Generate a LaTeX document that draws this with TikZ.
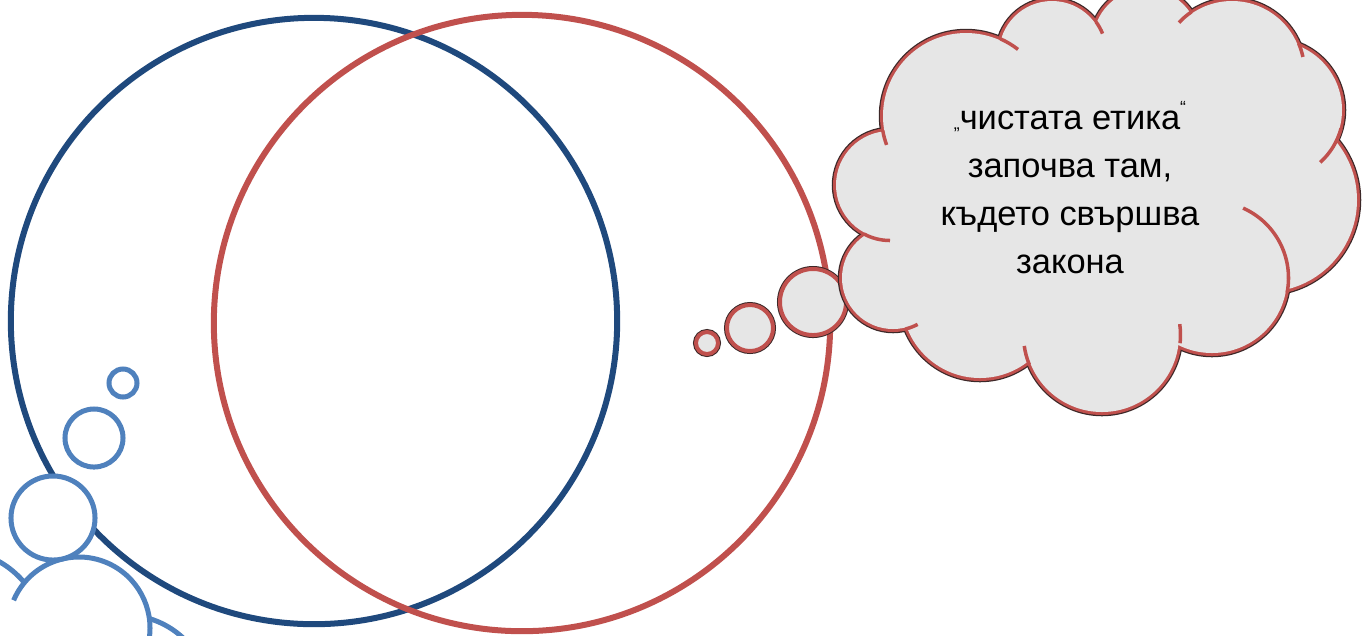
\documentclass[tikz,border=0pt]{standalone}
\usepackage{fontspec}
\newfontfamily\cloudfont{Liberation Sans}
\definecolor{lawblue}{RGB}{31,73,125}
\definecolor{ethicred}{RGB}{192,80,77}
\definecolor{bubbleblue}{RGB}{79,129,189}
\definecolor{cloudgray}{RGB}{230,230,230}
\definecolor{cloudshade}{RGB}{60,40,40}
\def\puffs{966/116/83,1052/54/53,1146/42/53,1232/72/71,1273/110/69,1265/200/92,1212/278/75,1102/335/77,980/300/78,893/278/51,890/185/54}

\begin{document}
\begin{tikzpicture}[x=0.01cm,y=-0.01cm,
  venn/.style={circle,line width=0.06cm,inner sep=0pt},
  blue bubble/.style={circle,draw=bubbleblue,fill=white,line width=0.05cm,inner sep=0pt},
  red bubble/.style={circle,preaction={draw=cloudshade,line width=0.06cm},draw=ethicred,fill=cloudgray,line width=0.04cm,inner sep=0pt},
  puff shade/.style={draw=cloudshade,line width=0.085cm},
  puff line/.style={draw=ethicred,line width=0.06cm},
  puff tick/.style={draw=ethicred,line width=0.035cm},
  cloud text/.style={align=center,font=\cloudfont\fontsize{9.8}{13.57}\selectfont}]
  \useasboundingbox (0,0) rectangle (1363,635);

  \node[venn,draw=lawblue,minimum size=6.06cm] (law) at (314,321) {};
  \node[venn,draw=ethicred,minimum size=6.16cm] (ethics) at (522,323) {};

  \draw[bubbleblue,line width=0.05cm] (79,628) ++(-157:71) arc[start angle=-157,end angle=10,radius=71];
  \draw[bubbleblue,line width=0.05cm] (-45,640) ++(-75:90) arc[start angle=-75,end angle=-39,radius=90];
  \draw[bubbleblue,line width=0.05cm] (125,700) ++(-73:85) arc[start angle=-73,end angle=-30,radius=85];
  \node[blue bubble,minimum size=0.28cm] (b1) at (123,383) {};
  \node[blue bubble,minimum size=0.58cm] (b2) at (94,438) {};
  \node[blue bubble,minimum size=0.84cm] (b3) at (53,518) {};

  \node[red bubble,minimum size=0.22cm] (t1) at (707,343) {};
  \node[red bubble,minimum size=0.46cm] (t2) at (750,328) {};
  \node[red bubble,minimum size=0.66cm] (t3) at (813,302) {};

  \foreach \px/\py/\pr in \puffs \draw[puff shade] (\px,\py) circle (\pr);
  \foreach \px/\py/\pr in \puffs \draw[puff line] (\px,\py) circle (\pr);
  \fill[cloudgray] (966,116) -- (1052,54) -- (1146,42) -- (1232,72) -- (1273,110) -- (1265,200)
    -- (1212,278) -- (1102,335) -- (980,300) -- (893,278) -- (890,185) -- cycle;
  \foreach \px/\py/\pr in \puffs \fill[cloudgray] (\px,\py) circle (\pr);
  \foreach \px/\py/\pr/\ta/\tb in {966/116/84.5/-66/-52,966/116/84.5/170/160,890/185/55.5/118/90,
    893/278/52.5/76/62,1102/335/78.5/158/172,1102/335/78.5/6/-8,1052/54/54.5/-36/-22,
    1232/72/72.5/-124/-137,1232/72/72.5/-23/-12,1273/110/70.5/15/48,1212/278/76.5/11/-66}
    \draw[puff tick] (\px,\py) ++(\ta:\pr) arc[start angle=\ta,end angle=\tb,radius=\pr];

  \node[cloud text,anchor=base] (note) at (1070,273) {{\tiny„}чистата етика\raisebox{0.9ex}{\tiny“}\\започва там,\\където свършва\\закона};
\end{tikzpicture}
\end{document}
